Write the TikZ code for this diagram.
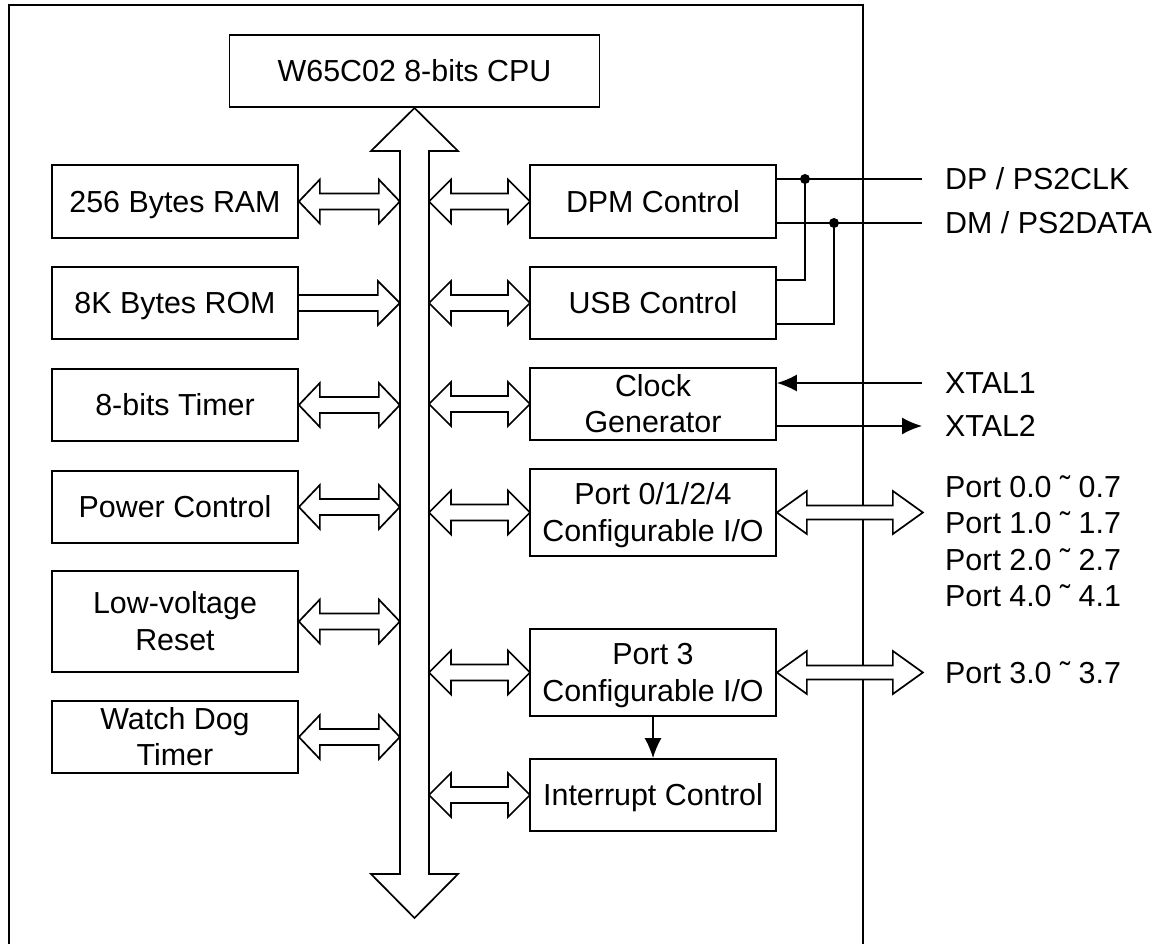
\documentclass[tikz,border=0pt]{standalone}
\usepackage{fontspec}
\setmainfont{Liberation Sans}
\usetikzlibrary{arrows.meta,calc}
\newcommand\ls{\rule[-0.212em]{0pt}{1.117em}}
\tikzset{
  box/.style={draw, line width=1.7pt, fill=white, inner sep=0pt, align=center,
    minimum width=246pt, minimum height=72pt, font=\fontsize{30.4}{36.5}\selectfont},
  fatfill/.style={draw, line width=1.7pt, fill=white, line join=miter},
  fatline/.style={draw, line width=1.7pt, line join=miter},
  wire/.style={line width=1.7pt},
  tipped/.style={wire, -{Latex[length=20pt,width=17pt]}},
  lbl/.style={anchor=west, inner sep=0pt, font=\fontsize{30.4}{36.5}\selectfont},
  dot/.style={circle, fill=black, inner sep=0pt, minimum size=10pt},
}
\newcommand\fatdbl[6]{%
  \path[#6] (#1) -- ++(#3,#4) -- ++(0,{#5-#4}) -- ++({#2-2*#3},0) -- ++(0,{#4-#5})
    -- ++(#3,-#4) -- ++(-#3,-#4) -- ++(0,{#4-#5}) -- ++({-(#2-2*#3)},0) -- ++(0,{#5-#4}) -- cycle;}
\begin{document}
\begin{tikzpicture}[x=1pt,y=-1pt]
\useasboundingbox (0,0) rectangle (1166,944);
% chip outline (open at bottom)
\coordinate (bl) at (9,944);
\coordinate (tl) at (9,5);
\coordinate (tr) at (863,5);
\coordinate (br) at (863,944);
\draw[wire] (bl) -- (tl) -- (tr) -- (br);

% CPU and internal bus
\node[box, minimum width=370pt] (cpu) at (414.5,71) {\ls W65C02 8-bits CPU};
\path[fatfill] (414.5,108) -- (458,151) -- (429,151) -- (429,874) -- (458,874) -- (414.5,918)
  -- (371,874) -- (400,874) -- (400,151) -- (371,151) -- cycle;
\coordinate (busL) at (400,0);
\coordinate (busR) at (429,0);

% left column
\node[box, minimum height=73pt] (ram) at (175,201.5) {\ls 256 Bytes RAM};
\node[box] (rom) at (175,303) {\ls 8K Bytes ROM};
\node[box] (tmr) at (175,405) {\ls 8-bits Timer};
\node[box] (pwr) at (175,507) {\ls Power Control};
\node[box, minimum height=101pt] (lvr) at (175,621.5) {\ls Low-voltage\\\ls Reset};
\node[box] (wdt) at (175,737) {\ls Watch Dog\\\ls Timer};

% right column
\node[box, minimum height=73pt] (dpm) at (653,201.5) {\ls DPM Control};
\node[box] (usb) at (653,303) {\ls USB Control};
\node[box] (clk) at (653,404) {\ls Clock\\\ls Generator};
\node[box, minimum height=87pt] (p0) at (653,512.5) {\ls Port 0/1/2/4\\\ls Configurable I/O};
\node[box, minimum height=87pt] (p3) at (653,672.5) {\ls Port 3\\\ls Configurable I/O};
\node[box] (irq) at (653,795) {\ls Interrupt Control};

% bus arrows, left side
\fatdbl{ram.east}{101}{21}{22}{8}{fatline}
\path[fatline] ($(rom.east)+(0,-8)$) -- ++(79,0) -- ++(0,-14) -- ++(22,22) -- ++(-22,22)
  -- ++(0,-14) -- ++(-79,0);
\fatdbl{tmr.east}{101}{21}{22}{8}{fatline}
\fatdbl{pwr.east}{101}{21}{22}{8}{fatline}
\fatdbl{lvr.east}{101}{21}{22}{8}{fatline}
\fatdbl{wdt.east}{101}{21}{22}{8}{fatline}

% bus arrows, right side
\fatdbl{busR |- dpm.west}{101}{22}{22}{8}{fatline}
\fatdbl{busR |- usb.west}{101}{22}{22}{8}{fatline}
\fatdbl{busR |- clk.west}{101}{22}{22}{8}{fatline}
\fatdbl{busR |- p0.west}{101}{22}{22}{8}{fatline}
\fatdbl{busR |- p3.west}{101}{22}{22}{8}{fatline}
\fatdbl{busR |- irq.west}{101}{22}{22}{8}{fatline}

% external labels
\node[lbl] (ldp) at (945,179) {\ls DP / PS2CLK};
\node[lbl] (ldm) at (945,223) {\ls DM / PS2DATA};
\node[lbl] (lx1) at (945,383) {\ls XTAL1};
\node[lbl] (lx2) at (945,426) {\ls XTAL2};
\node[lbl] (lp0) at (945,486.5) {\ls Port 0.0 ˜ 0.7};
\node[lbl] (lp1) at (945,523) {\ls Port 1.0 ˜ 1.7};
\node[lbl] (lp2) at (945,559.5) {\ls Port 2.0 ˜ 2.7};
\node[lbl] (lp4) at (945,596) {\ls Port 4.0 ˜ 4.1};
\node[lbl] (lp3) at (945,672.5) {\ls Port 3.0 ˜ 3.7};

% DP/DM wiring
\coordinate (dpend) at (922,179);
\coordinate (dmend) at (922,223);
\node[dot] (j1) at (805,179) {};
\node[dot] (j2) at (834,223) {};
\draw[wire] ($(dpm.east)+(0,-22.5)$) -- (dpend);
\draw[wire] ($(dpm.east)+(0,21.5)$) -- (dmend);
\draw[wire] ($(usb.east)+(0,-23)$) -| (j1.center);
\draw[wire] ($(usb.east)+(0,21)$) -| (j2.center);

% clock wiring
\coordinate (x1end) at (922,383);
\coordinate (x2end) at (922,426);
\draw[tipped] (x1end) -- (clk.east |- x1end);
\draw[tipped] (clk.east |- x2end) -- (x2end);

% port arrows
\fatdbl{p0.east}{146}{30}{21.5}{7}{fatfill}
\fatdbl{p3.east}{146}{30}{21.5}{7}{fatfill}

% port 3 to interrupt
\draw[tipped] (p3.south) -- (irq.north);
\end{tikzpicture}
\end{document}
